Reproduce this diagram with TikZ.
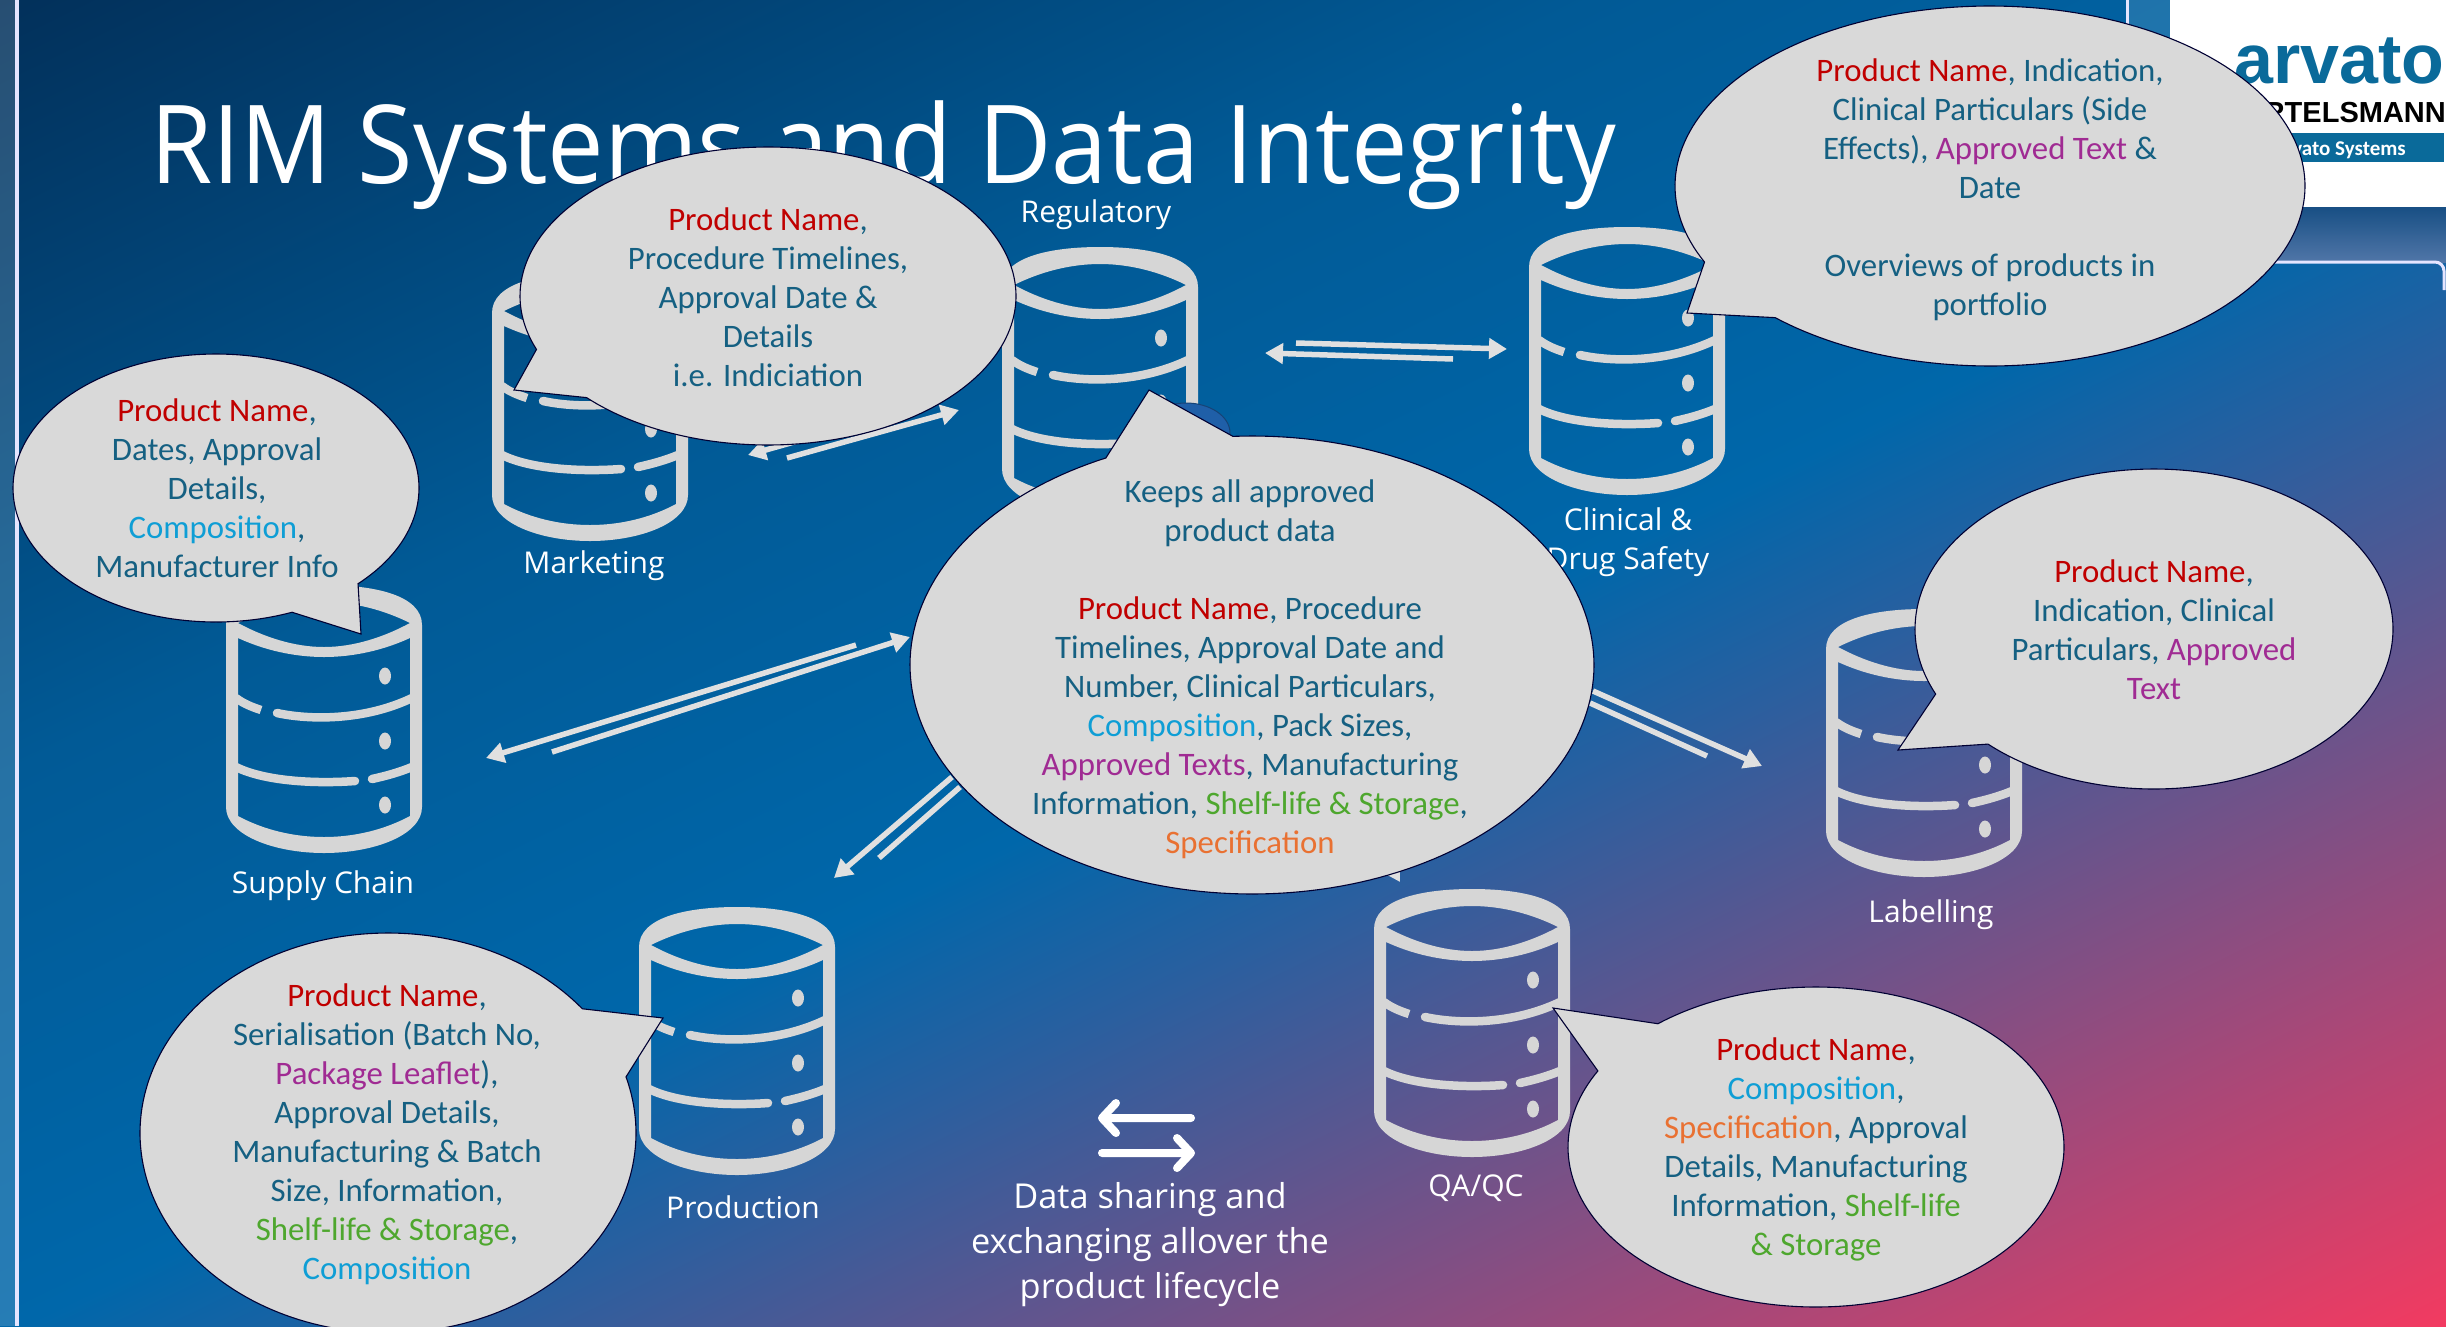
\documentclass[tikz,border=0pt]{standalone}
\usepackage{fontspec}
\setmainfont{Carlito}
\newfontfamily\headfont{Open Sans}
\newfontfamily\titlefont[FakeStretch=0.925]{Open Sans}
\newfontfamily\logofont{Liberation Sans}
\usetikzlibrary{arrows.meta}
\usetikzlibrary{positioning}
\definecolor{backA}{HTML}{02305A}
\definecolor{backB}{HTML}{015A96}
\definecolor{backC}{HTML}{0067AA}
\definecolor{backD}{HTML}{2A5F9F}
\definecolor{backE}{HTML}{F43A60}
\definecolor{stripA}{HTML}{184F84}
\definecolor{stripB}{HTML}{5076A8}
\definecolor{rimteal}{HTML}{156082}
\definecolor{rimred}{HTML}{C00000}
\definecolor{rimcyan}{HTML}{0F9ED5}
\definecolor{rimpurple}{HTML}{A02B93}
\definecolor{rimgreen}{HTML}{4EA72E}
\definecolor{rimorange}{HTML}{E97132}
\definecolor{rimgray}{HTML}{D9D9D9}
\definecolor{logoblue}{HTML}{0A6A9A}
\definecolor{hiddenblue}{HTML}{1F5FA8}
\pgfdeclareverticalshading{rimback}{100bp}{color(0bp)=(backE); color(25.65bp)=(backE); color(44.56bp)=(backD); color(48.9bp)=(backC); color(59.8bp)=(backB); color(75bp)=(backA); color(100bp)=(backA)}
\tikzset{
  bubble/.style={fill=rimgray,draw=black!80!blue,line width=1.1pt},
  bubtext/.style={align=center,text=rimteal,font=\fontsize{32.8}{39}\selectfont,inner sep=0pt},
  tag/.style={align=center,text=white,font=\headfont\fontsize{30}{39}\selectfont,inner sep=0pt},
  flow/.style={draw=black!12,line width=5.5pt,-{Triangle[length=18pt,width=20pt]}},
  flowbare/.style={draw=black!12,line width=5.5pt},
  swap/.style={draw=white,line width=8pt,line cap=round,line join=round},
  dbstack/.pic={
    \fill[black!16,even odd rule] (-98,40) .. controls (-98,10) and (-50,0) .. (0,0)
        .. controls (50,0) and (98,10) .. (98,40) -- (98,222)
        .. controls (98,250) and (50,268) .. (0,268)
        .. controls (-50,268) and (-98,250) .. (-98,222) -- cycle
      (-86,38) .. controls (-60,25) and (-30,17) .. (0,17) .. controls (30,17) and (60,25) .. (86,38)
        .. controls (60,52) and (30,62) .. (0,62) .. controls (-30,62) and (-60,52) .. (-86,38) -- cycle
      (-86,53) .. controls (-60,65) and (-30,72) .. (0,72) .. controls (30,72) and (60,65) .. (86,53) -- (86,231)
        .. controls (60,245) and (30,252) .. (0,252) .. controls (-30,252) and (-60,245) .. (-86,231) -- cycle;
    \draw[black!16,line width=8.5pt] (-88,113) .. controls (-80,119) and (-72,122) .. (-63,125);
    \draw[black!16,line width=8.5pt,line cap=round] (-47,128) .. controls (-15,135) and (40,136) .. (88,113);
    \draw[black!16,line width=8.5pt,line cap=round] (-88,182) .. controls (-60,196) and (-10,199) .. (31,196);
    \draw[black!16,line width=8.5pt,line cap=round] (48,194) .. controls (62,191) and (76,187) .. (88,182);
    \foreach \dy in {91,156,220}
      \fill[black!16] (61,\dy) ellipse (6 and 8.5);
  }
}
\newcommand{\pname}{\textcolor{rimred}{Product Name}}
\newcommand{\cmpos}{\textcolor{rimcyan}{Composition}}
\newcommand{\specif}{\textcolor{rimorange}{Specification}}
\newcommand{\apptext}[1]{\textcolor{rimpurple}{#1}}
\newcommand{\shelflife}[1]{\textcolor{rimgreen}{#1}}
% ellipse from angle a to angle b, closed over the tip
\newcommand{\rimbubble}[7]{
  \draw[bubble] plot[domain=#5:#6,samples=200,variable=\t] ({#1+#3*cos(\t)},{#2+#4*sin(\t)}) -- #7 -- cycle;
}
\begin{document}
\begin{tikzpicture}[x=1pt,y=-1pt]
\useasboundingbox (0,0) rectangle (2446,1326);
\clip (0,0) rectangle (2446,1326);
\shade[shading=rimback,transform canvas={rotate around={26:(0,0)}}] (-1000,0) rectangle (3500,2300);

% left edge
\fill[white,opacity=.15] (0,0) rectangle (15,1326);
\draw[white!90!blue,line width=3.5pt] (17,0) -- (17,1326);

% logo corner
\fill[white,opacity=.12] (2127,0) rectangle (2170,60);
\draw[white!90!blue,line width=3pt] (2127,0) -- (2127,40);
\fill[white] (2170,0) rectangle (2446,207);
\shade[top color=stripA,bottom color=stripB] (2200,207) rectangle (2446,262);
\draw[white!90!blue,line width=3pt,rounded corners=9pt] (2230,262) -- (2444,262) -- (2444,290);
\node[anchor=base west,text=logoblue,inner sep=0pt,font=\logofont\bfseries\fontsize{70}{70}\selectfont] (logoname) at (2234,83) {arvato};
\node[anchor=base east,text=black,inner sep=0pt,font=\logofont\bfseries\fontsize{29}{29}\selectfont] (logoparent) at (2446,122) {BERTELSMANN};
\fill[logoblue] (2240,133) rectangle (2444,162);
\node[anchor=base east,text=white,inner sep=0pt,font=\bfseries\fontsize{21}{21}\selectfont] (logotag) at (2406,155) {Arvato Systems};

% title
\node[anchor=base west,text=white,inner sep=0pt,font=\titlefont\fontsize{109}{120}\selectfont] (title) at (150,183) {RIM Systems and Data Integrity};

% arrows, free ends
\foreach \cname/\cx/\cy in {mkA/787/458,mkB/959/410,mkC/918/407,mkD/748/455,
    clA/1296/343,clB/1507/349,clC/1453/359,clD/1265/353,
    scA/856/645,scB/486/758,scC/552/752,scD/910/637,
    prA/952/777,prB/834/878,prC/879/858,prD/960/787,
    lbA/1593/691,lbB/1762/766,lbC/1590/703,lbD/1707/756,
    qaA/1340/780,qaB/1400/882}
  \coordinate (\cname) at (\cx,\cy);
\draw[flow] (mkA) -- (mkB);
\draw[flow] (mkC) -- (mkD);
\draw[flow] (clA) -- (clB);
\draw[flow] (clC) -- (clD);
\draw[flow] (scA) -- (scB);
\draw[flow] (scC) -- (scD);
\draw[flow] (prA) -- (prB);
\draw[flowbare] (prC) -- (prD);
\draw[flow] (lbA) -- (lbB);
\draw[flowbare] (lbC) -- (lbD);
\draw[flow] (qaA) -- (qaB);

% the stores
\pic at (590,273) {dbstack};
\pic at (1100,247) {dbstack};
\pic at (1627,227) {dbstack};
\pic at (324,585) {dbstack};
\pic at (1924,609) {dbstack};
\pic at (737,907) {dbstack};
\pic at (1472,889) {dbstack};
\fill[hiddenblue,draw=hiddenblue!70!black,line width=1pt] (1186,433) ellipse (44 and 30);

\node[tag] (marketing) at (594,566) {Marketing};
\node[tag] (regulatory) at (1096,215) {Regulatory};
\node[tag] (clinical) at (1628,542) {Clinical \&\\Drug Safety};
\node[tag] (supply) at (323,886) {Supply Chain};
\node[tag] (labelling) at (1931,915) {Labelling};
\node[tag] (production) at (743,1207) {Production};
\node[tag] (qaqc) at (1476,1188) {QA/QC};

% callouts
\rimbubble{768}{296}{248}{149}{159}{497}{(514,390)}
\node[bubtext] (marketingtxt) at (768,297) {\pname,\\Procedure Timelines,\\Approval Date \&\\Details\\i.e. Indiciation};

\rimbubble{1990}{186}{315}{180}{155}{493}{(1687,313)}
\node[bubtext] (clinicaltxt) at (1990,190) {\pname, Indication,\\Clinical Particulars (Side\\Effects), \apptext{Approved Text} \&\\Date\\[39pt]Overviews of products in\\portfolio};

\rimbubble{216}{488}{203}{134}{68}{405.6}{(361,634)}
\node[bubtext] (supplytxt) at (217,488) {\pname,\\Dates, Approval\\Details,\\\cmpos,\\Manufacturer Info};

\rimbubble{2154}{629}{239}{160}{156}{494}{(1898,750)}
\node[bubtext] (labellingtxt) at (2154,630) {\pname,\\Indication, Clinical\\Particulars, \apptext{Approved}\\\apptext{Text}};

\rimbubble{388}{1133}{248}{200}{-16.3}{321.6}{(663,1018)}
\node[bubtext] (productiontxt) at (387,1134) {\pname,\\Serialisation (Batch No,\\\apptext{Package Leaflet}),\\Approval Details,\\Manufacturing \& Batch\\Size, Information,\\\shelflife{Shelf-life \& Storage},\\\cmpos};

\rimbubble{1816}{1147}{248}{160}{230.4}{568.4}{(1553,1008)}
\node[bubtext] (qaqctxt) at (1816,1149) {\pname,\\\cmpos,\\\specif, Approval\\Details, Manufacturing\\Information, \shelflife{Shelf-life}\\\shelflife{\& Storage}};

\rimbubble{1252}{665}{342}{229}{266.8}{604.7}{(1149,390)}
\node[bubtext] (centraltxt) at (1250,669) {Keeps all approved\\product data\\[39pt]\pname, Procedure\\Timelines, Approval Date and\\Number, Clinical Particulars,\\\cmpos, Pack Sizes,\\\apptext{Approved Texts}, Manufacturing\\Information, \shelflife{Shelf-life \& Storage},\\\specif};

% key
\coordinate (keyAa) at (1191,1118);
\coordinate (keyAb) at (1102,1118);
\coordinate (keyAc) at (1116,1103);
\coordinate (keyAd) at (1116,1133);
\coordinate (keyBa) at (1102,1153);
\coordinate (keyBb) at (1191,1153);
\coordinate (keyBc) at (1177,1138);
\coordinate (keyBd) at (1177,1168);
\draw[swap] (keyAa) -- (keyAb) (keyAc) -- (keyAb) -- (keyAd);
\draw[swap] (keyBa) -- (keyBb) (keyBc) -- (keyBb) -- (keyBd);
\node[tag,font=\headfont\fontsize{34.3}{45}\selectfont] (keytxt) at (1150,1245) {Data sharing and\\exchanging allover the\\product lifecycle};
\end{tikzpicture}
\end{document}
